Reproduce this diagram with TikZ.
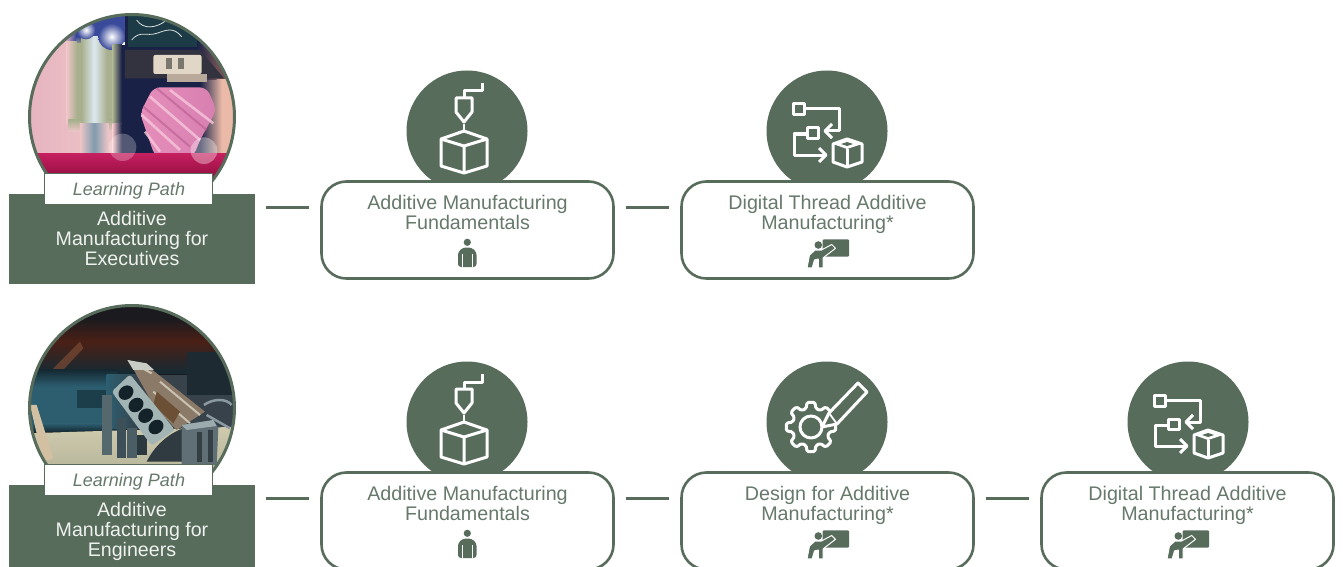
\documentclass[tikz,border=0pt]{standalone}
\usepackage{fontspec}
\setmainfont{Liberation Sans}
\definecolor{sage}{HTML}{586C5C}
\definecolor{sagetext}{HTML}{66796B}
\definecolor{paleinv}{HTML}{EEF1EE}
\definecolor{pkA}{HTML}{E6B4C0}
\definecolor{pkB}{HTML}{EFC6C8}
\definecolor{blA}{HTML}{3A4A9A}
\definecolor{grA}{HTML}{A9B08F}
\definecolor{stA}{HTML}{DCE8F0}
\definecolor{stB}{HTML}{7F9CAE}
\definecolor{nvA}{HTML}{1A2146}
\definecolor{peA}{HTML}{EAB9A8}
\definecolor{brA}{HTML}{6E4F55}
\definecolor{rdA}{HTML}{C41F5F}
\definecolor{rdB}{HTML}{960F42}
\definecolor{obA}{HTML}{E68EBA}
\definecolor{obB}{HTML}{D77FB0}
\definecolor{dkA}{HTML}{1B1A1F}
\definecolor{dkB}{HTML}{4A2016}
\definecolor{dkC}{HTML}{152A33}
\definecolor{tlA}{HTML}{2C5E70}
\definecolor{tlB}{HTML}{37424A}
\definecolor{tbA}{HTML}{CFCAAE}
\definecolor{tbB}{HTML}{B8B79C}
\tikzset{
  HTML/.code={\definecolor{tmpc}{HTML}{#1}\tikzset{color=tmpc}},
  pathbanner/.style={fill=sage,draw=none,inner sep=0pt,minimum width=246pt,minimum height=90pt},
  lplabel/.style={fill=white,draw=sage,line width=1pt,inner sep=0pt,minimum width=168pt,minimum height=31pt,font=\fontsize{18}{20}\selectfont\itshape,text=sagetext},
  bannertext/.style={align=center,text=paleinv,font=\fontsize{19.6}{20}\selectfont,inner sep=0pt},
  coursebox/.style={fill=white,draw=sage,line width=2.6pt,rounded corners=25pt,minimum width=292pt,minimum height=97pt,inner sep=0pt},
  coursetext/.style={align=center,text=sagetext,font=\fontsize{19.7}{20}\selectfont,inner sep=0pt},
  iconcircle/.style={circle,fill=sage,draw=none,minimum size=121pt,inner sep=0pt},
  link/.style={draw=sage,line width=3pt},
  ring/.style={draw=sage,line width=3pt},
  whiteline/.style={draw=white,line width=3pt,line join=round,fill=none},
}
% ---- icons, local coordinates about the circle centre
\newcommand{\iconprint}[2]{\begin{scope}[shift={(#1,#2)}]
  \draw[whiteline] (15,-48)--(15,-40)--(-3,-40)--(-3,-33);
  \draw[whiteline] (-11,-33)--(5,-33)--(5,-19)--(-3,-9)--(-11,-19)--cycle;
  \draw[white,line width=1.8pt] (-3,-7)--(-3,0);
  \draw[whiteline] (-3,0)--(-26,8)--(-26,35)--(-3,42)--(20,35)--(20,8)--cycle;
  \draw[whiteline] (-26,8)--(-3,15)--(20,8) (-3,15)--(-3,42);
\end{scope}}
\newcommand{\iconthread}[2]{\begin{scope}[shift={(#1,#2)}]
  \draw[whiteline] (-34,-27) rectangle (-23,-16);
  \draw[whiteline] (-23,-22)--(12,-22)--(12,0)--(-1,0);
  \draw[whiteline] (5,-7)--(-2,0)--(5,7);
  \draw[whiteline] (-20,-3) rectangle (-9,7);
  \draw[whiteline] (-20,3)--(-33,3)--(-33,24)--(-2,24);
  \draw[whiteline] (-8,17)--(-1,24)--(-8,31);
  \draw[whiteline] (20,8)--(6,13)--(6,31)--(20,36)--(35,31)--(35,13)--cycle;
  \draw[whiteline] (20,18)--(20,36);
  \fill[white] (20,8)--(6,13)--(20,18)--(35,13)--cycle;
  \fill[sage] (20,11)--(14,13)--(20,15)--(26,13)--cycle;
\end{scope}}
\newcommand{\icongear}[2]{\begin{scope}[shift={(#1,#2)}]
  \draw[whiteline,rounded corners=1.5pt] ({-16+25*cos(9)},{5+25*sin(9)})
   \foreach \a in {0,45,...,315}{
    -- ({-16+25*cos(\a+9)},{5+25*sin(\a+9)})
    -- ({-16+19*cos(\a+15)},{5+19*sin(\a+15)})
    -- ({-16+19*cos(\a+30)},{5+19*sin(\a+30)})
    -- ({-16+25*cos(\a+36)},{5+25*sin(\a+36)})
   } -- cycle;
  \fill[sage] (2,-9)--(31,-39)--(40,-30)--(10,2)--(-5,5)--cycle;
  \draw[whiteline] (-16,5) circle (11);
  \draw[whiteline] (-5,5)--(2,-9)--(31,-39)--(40,-30)--(10,2)--cycle;
  \draw[white,line width=1.8pt] (2,-9)--(10,2);
\end{scope}}
\newcommand{\iconperson}[2]{\begin{scope}[shift={(#1,#2)}]
  \fill[sage] (0.3,-10.7) circle (3.6);
  \fill[sage,rounded corners=3pt] (-9,14)--(-9,-1)--(-4,-5.5)--(4.5,-5.5)--(9.5,-1)--(9.5,14)--cycle;
  \draw[white,line width=.6pt] (-5,1)--(-5,14) (5.5,1)--(5.5,14);
\end{scope}}
\newcommand{\iconteach}[2]{\begin{scope}[shift={(#1,#2)}]
  \fill[sage,rounded corners=1pt] (-4.3,-13.7) rectangle (22,3.7);
  \draw[white,line width=1pt,fill=sage,line join=round] (-20,14.8)--(-17.5,2)--(-12,-3)--(-5.5,-3)--(4.7,-8.5)--(8.5,-4.7)--(-3.8,4.8)--(-3.8,14.8)--(-8.7,14.8)--(-8.7,6)--(-12.5,7)--(-14.8,14.8)--cycle;
  \fill[sage] (-8.7,-8) circle (3.8);
\end{scope}}
\newcommand{\coursecard}[4]{% name, x, y, text
  \node[coursebox] (#1) at (#2,#3) {};
  \node[coursetext] (#1t) at (#2,#3-16) {#4\vphantom{g}};
}
\begin{document}
\begin{tikzpicture}[x=1pt,y=-1pt]
\useasboundingbox (0,0) rectangle (1343,567);
\clip (0,0) rectangle (1343,567);
\fill[white] (0,0) rectangle (1343,567);

% ===== photo 1
\begin{scope}
\clip (132,117) circle (102.5);
\begin{scope}[x=.3333pt,y=-.3333pt]
  \shade[left color=pkA,right color=pkB] (80,30) rectangle (360,530);
  \fill[blA] (228,40) rectangle (380,125);
  \shade[left color=pkA,right color=blA] (195,40) rectangle (228,125);
  \shade[top color=blA,bottom color=grA] (228,110) rectangle (345,135);
  \shade[left color=pkB,right color=grA] (200,125) rectangle (230,370);
  \fill[grA] (230,130) rectangle (340,370);
  \shade[top color=grA,bottom color=pkB] (205,360) rectangle (350,395);
  \shade[left color=grA,right color=grA,middle color=stA] (245,110) rectangle (320,370);
  \shade[left color=pkB,right color=pkB,middle color=stB] (240,370) rectangle (325,460);
  \shade[inner color=white,outer color=blA] (258,90) circle (28);
  \shade[inner color=white,outer color=blA] (335,110) circle (40);
  \shade[left color=grA,right color=nvA] (338,135) rectangle (365,370);
  \shade[left color=pkB,right color=nvA] (338,370) rectangle (365,465);
  \fill[nvA] (375,40) rectangle (720,465);
  \fill[nvA] (365,135) rectangle (375,465);
  \shade[left color=nvA,right color=peA] (600,235) rectangle (665,470);
  \fill[peA] (665,235) rectangle (720,470);
  \shade[left color=nvA,right color=brA] (590,130) rectangle (650,238);
  \fill[brA] (650,130) rectangle (720,238);
  \fill[HTML=1D3B47] (385,40) rectangle (590,140);
  \draw[HTML=D8E0D8,line width=.8pt] (395,120)..controls (420,90) and (440,110) .. (470,100) .. controls (500,90) and (520,80) .. (545,110);
  \draw[HTML=D8E0D8,line width=.8pt] (410,60)..controls (430,90) and (470,85) .. (500,60);
  \fill[HTML=33323F] (375,150)--(600,150)--(672,235)--(375,235)--cycle;
  \fill[HTML=E2D7C6,rounded corners=2pt] (460,165) rectangle (605,222);
  \fill[HTML=7A776F] (498,175) rectangle (515,208);
  \fill[HTML=7A776F] (535,175) rectangle (552,208);
  \fill[HTML=B9A99A] (500,222) rectangle (620,245);
  \shade[left color=obA,right color=obB,rounded corners=7pt] (460,262)--(620,262)--(650,330)--(600,420)--(580,470)--(465,470)--(420,340)--cycle;
  \draw[HTML=F6C8DC,line width=2.6pt,opacity=.8] (450,290)--(600,420) (510,270)--(640,370) (425,345)--(540,450) (435,395)--(480,455);
  \draw[HTML=B95C92,line width=2pt,opacity=.6] (470,265)--(620,390) (430,320)--(570,440);
  \shade[top color=rdA,bottom color=rdB] (80,462) rectangle (720,530);
  \fill[white,opacity=.25] (368,442) circle (41);
  \fill[white,opacity=.35] (612,452) circle (40);
\end{scope}
\end{scope}
\draw[ring] (132,117) circle (102.5);

% ===== photo 2
\begin{scope}
\clip (132,408) circle (102.5);
\begin{scope}[yshift=-295pt,x=.3333pt,y=-.3333pt]
  \fill[dkA] (80,20) rectangle (720,520);
  \shade[top color=dkA,bottom color=dkB] (80,70) rectangle (720,140);
  \shade[top color=dkB,bottom color=dkC] (80,140) rectangle (720,235);
  \fill[HTML=7C4A33,opacity=.7] (160,220)--(240,140)--(250,160)--(175,240)--cycle;
  \shade[top color=dkC,bottom color=tlA] (80,225) rectangle (350,275);
  \fill[tlA] (80,275) rectangle (350,385);
  \shade[top color=tlA,bottom color=dkC] (80,385) rectangle (350,410);
  \fill[HTML=1C3E4A] (230,285) rectangle (350,340);
  \shade[left color=tlA,right color=tlB] (320,240) rectangle (420,400);
  \fill[tlB] (420,240) rectangle (720,400);
  \fill[HTML=1E2A32] (560,170) rectangle (720,300);
  \shade[top color=tbA,bottom color=tbB] (80,415)--(720,395)--(720,520)--(80,520)--cycle;
  \fill[HTML=D3BFA2] (90,330)--(110,330)--(160,490)--(130,500)--cycle;
  % supports
  \fill[HTML=55686E] (305,300) rectangle (335,480);
  \fill[HTML=3D4F57] (350,370) rectangle (378,490);
  \fill[HTML=4B5E66] (382,400) rectangle (412,490);
  \fill[HTML=2B383E] (412,420) rectangle (440,480);
  % engine
  \fill[HTML=8C7A68] (385,195)--(445,215)--(615,350)--(530,405)--(460,330)--cycle;
  \draw[HTML=C8C2B0,line width=2pt] (390,200)--(455,235) (480,260)--(600,360) (460,290)--(570,385);
  \fill[HTML=6B5036] (470,290)--(540,350)--(520,385)--(460,330)--cycle;
  \fill[HTML=A3B4B5,rounded corners=3pt] (335,290)--(390,238)--(525,405)--(455,452)--cycle;
  \foreach \cx/\cy in {378/293,408/330,437/362,468/396}
    \fill[HTML=14222A,rotate around={41:(\cx,\cy)}] (\cx,\cy) ellipse (24 and 20);
  \fill[HTML=C8CCC4] (382,195)--(440,205)--(462,225)--(400,225)--cycle;
  % right parts
  \draw[HTML=8A9AA0,line width=2.5pt] (612,330)..controls (640,310) and (680,310) .. (695,330) (620,360)--(690,400);
  \fill[HTML=2F3B40] (440,500)..controls (470,440) and (520,410) .. (550,400)--(550,500)--cycle;
  \fill[HTML=5F6F75] (545,390)--(640,375)--(655,400)--(650,510)--(545,510)--cycle;
  \fill[HTML=9CABAE] (545,390)--(640,375)--(650,393)--(560,405)--cycle;
  \fill[HTML=333F45] (590,410) rectangle (605,500);
  \fill[HTML=333F45] (625,405) rectangle (640,500);
\end{scope}
\end{scope}
\draw[ring] (132,408) circle (102.5);

% ===== banners
\node[pathbanner] (execs) at (132,239) {};
\node[lplabel] (execsl) at (128.5,189) {\hspace*{1pt}\raisebox{-6pt}[0pt][0pt]{Learning Path}};
\node[bannertext] (execst) at (132,240) {Additive\\Manufacturing for\\Executives\vphantom{g}};
\node[pathbanner] (engs) at (132,530) {};
\node[lplabel] (engsl) at (128.5,480) {\hspace*{1pt}\raisebox{-6pt}[0pt][0pt]{Learning Path}};
\node[bannertext] (engst) at (132,531) {Additive\\Manufacturing for\\Engineers};

% ===== icon circles
\node[iconcircle] (ca) at (467,131) {};
\node[iconcircle] (cb) at (827,131) {};
\node[iconcircle] (cc) at (467,422) {};
\node[iconcircle] (cd) at (827,422) {};
\node[iconcircle] (ce) at (1188,422) {};
\iconprint{467}{131}
\iconthread{827}{131}
\iconprint{467}{422}
\icongear{827}{422}
\iconthread{1188}{422}

% ===== course cards
\coursecard{a}{467.5}{230}{Additive Manufacturing\\Fundamentals}
\coursecard{b}{827.5}{230}{Digital Thread Additive\\Manufacturing*}
\coursecard{c}{467.5}{521}{Additive Manufacturing\\Fundamentals}
\coursecard{d}{827.5}{521}{Design for Additive\\Manufacturing*}
\coursecard{e}{1187.5}{521}{Digital Thread Additive\\Manufacturing*}
\iconperson{467}{253}
\iconteach{827}{253}
\iconperson{467}{544}
\iconteach{827}{544}
\iconteach{1187}{544}

% ===== connectors
\coordinate (l1a) at (execs.east |- 0,207.5);
\coordinate (l1b) at (a.west |- 0,207.5);
\coordinate (l2a) at (a.east |- 0,207.5);
\coordinate (l2b) at (b.west |- 0,207.5);
\coordinate (l3a) at (engs.east |- 0,498.5);
\coordinate (l3b) at (c.west |- 0,498.5);
\coordinate (l4a) at (c.east |- 0,498.5);
\coordinate (l4b) at (d.west |- 0,498.5);
\coordinate (l5a) at (d.east |- 0,498.5);
\coordinate (l5b) at (e.west |- 0,498.5);
\foreach \s/\t in {l1a/l1b,l2a/l2b,l3a/l3b,l4a/l4b,l5a/l5b}
  \draw[link,shorten <=11pt,shorten >=11pt] (\s) -- (\t);
\end{tikzpicture}
\end{document}
